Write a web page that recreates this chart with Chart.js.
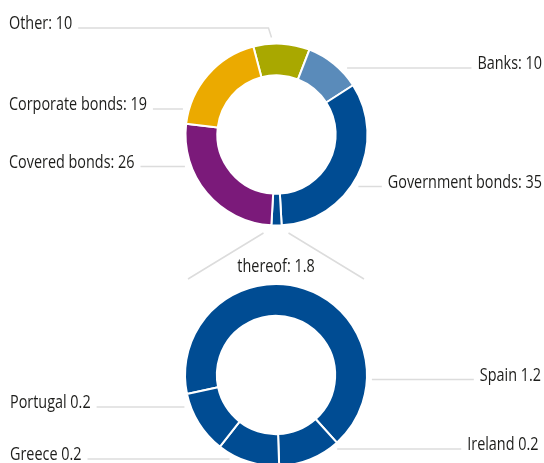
<!DOCTYPE html>
<html>
<head>
<meta charset="utf-8">
<script src="https://cdn.jsdelivr.net/npm/chart.js@4.4.1/dist/chart.umd.min.js"></script>
<style>
  html, body { margin: 0; padding: 0; background: #fff; }
  #wrap { position: relative; width: 544px; height: 463px; overflow: hidden; }
  #wrap canvas { position: absolute; left: 0; top: 0; }
</style>
</head>
<body>
<div id="wrap">
  <canvas id="top" width="544" height="463"></canvas>
  <canvas id="bottom" width="544" height="463"></canvas>
</div>
<script>
// portfolio split (percent)
const categories = ['Other', 'Banks', 'Government bonds', 'Covered bonds', 'Corporate bonds'];
const shares = [10, 10, 35, 26, 19];
const colors = ['#a9a800', '#5a8bba', '#004c93', '#7b1a7a', '#ebaa00'];

// government bonds, thereof periphery countries
const thereofLabel = 'thereof';
const thereofTotal = 1.8;
const countries = ['Spain', 'Ireland', 'Greece', 'Portugal'];
const countryValues = [1.2, 0.2, 0.2, 0.2];

// no condensed face installed, so squeeze a humanist sans horizontally
const FONT = '18px "Open Sans", sans-serif';
const SQUEEZE = 0.8;
const TEXT = '#1d1d1b';
const LINE = '#dcdcdc';
const R = 91;

// government bonds ring slice is split so the "thereof" part sits at the bottom
const topLabels = ['Other', 'Banks', 'Government bonds', thereofLabel, 'Covered bonds', 'Corporate bonds'];
const topValues = [shares[0], shares[1], +(shares[2] - thereofTotal).toFixed(1), thereofTotal, shares[3], shares[4]];
const topColors = [colors[0], colors[1], colors[2], colors[2], colors[3], colors[4]];
const topSum = topValues.reduce((a, b) => a + b, 0);
const beforeMid = topValues[0] + topValues[1] + topValues[2] + topValues[3] / 2;
const topRotation = 180 - beforeMid / topSum * 360;

function ringGeom(chart) {
  const arc = chart.getDatasetMeta(0).data[0];
  return { x: arc.x, y: arc.y, r: arc.outerRadius };
}

// x where a horizontal line at y meets the ring (plus a small gap)
function ringEdgeX(g, y, side, gap) {
  const dy = y - g.y;
  const rr = g.r + gap;
  const dx = Math.sqrt(Math.max(rr * rr - dy * dy, 0));
  return side < 0 ? g.x - dx : g.x + dx;
}

function squeezedText(ctx, text, x, y, align) {
  ctx.save();
  ctx.translate(x, y);
  ctx.scale(SQUEEZE, 1);
  ctx.textAlign = align;
  ctx.fillText(text, 0, 0);
  ctx.restore();
  return ctx.measureText(text).width * SQUEEZE;
}

function drawLabels(chart, items) {
  const ctx = chart.ctx;
  const g = ringGeom(chart);
  ctx.save();
  ctx.font = FONT;
  ctx.textBaseline = 'alphabetic';
  ctx.fillStyle = TEXT;
  ctx.strokeStyle = LINE;
  ctx.lineWidth = 1.5;
  items.forEach(it => {
    const w = squeezedText(ctx, it.text, it.x, it.y, it.align);
    const ly = it.y - 1;
    ctx.beginPath();
    if (it.align === 'left') {
      ctx.moveTo(it.x + w + 6, ly);
      if (it.bend) {
        ctx.lineTo(g.x - 8, ly);
        ctx.lineTo(g.x - 5, g.y - g.r - 6);
      } else {
        ctx.lineTo(ringEdgeX(g, ly, -1, it.gap || 6), ly);
      }
    } else {
      ctx.moveTo(it.x - w - 6, ly);
      ctx.lineTo(ringEdgeX(g, ly, 1, it.gap || 6), ly);
    }
    ctx.stroke();
  });
  ctx.restore();
}

const baseOptions = {
  responsive: false,
  maintainAspectRatio: false,
  animation: false,
  events: [],
  radius: R,
  cutout: '65%',
  plugins: { legend: { display: false }, tooltip: { enabled: false } }
};

const topChart = new Chart(document.getElementById('top'), {
  type: 'doughnut',
  data: {
    labels: topLabels,
    datasets: [{
      data: topValues,
      backgroundColor: topColors,
      borderColor: '#ffffff',
      borderWidth: 2
    }]
  },
  options: Object.assign({}, baseOptions, {
    rotation: topRotation,
    layout: { padding: { left: 9, right: 0, top: 0, bottom: 194 } }
  }),
  plugins: [{
    id: 'topLabels',
    afterDraw(chart) {
      drawLabels(chart, [
        { text: categories[0] + ': ' + shares[0], x: 9, y: 29, align: 'left', bend: true },
        { text: categories[4] + ': ' + shares[4], x: 9, y: 110, align: 'left' },
        { text: categories[3] + ': ' + shares[3], x: 9, y: 167.5, align: 'left' },
        { text: categories[1] + ': ' + shares[1], x: 542, y: 69, align: 'right' },
        { text: categories[2] + ': ' + shares[2], x: 542, y: 187.5, align: 'right' }
      ]);
    }
  }]
});

const bottomChart = new Chart(document.getElementById('bottom'), {
  type: 'doughnut',
  data: {
    labels: countries,
    datasets: [{
      data: countryValues,
      backgroundColor: colors[2],
      borderColor: '#ffffff',
      borderWidth: 2
    }]
  },
  options: Object.assign({}, baseOptions, {
    rotation: 258,
    layout: { padding: { left: 8, right: 0, top: 287, bottom: 0 } }
  }),
  plugins: [{
    id: 'bottomLabels',
    afterDraw(chart) {
      const ctx = chart.ctx;
      const t = ringGeom(topChart);
      const b = ringGeom(chart);
      // connector from the "thereof" slice down to the breakdown ring
      ctx.save();
      ctx.strokeStyle = LINE;
      ctx.lineWidth = 1.5;
      ctx.beginPath();
      ctx.moveTo(t.x - 13, t.y + t.r + 7.5);
      ctx.lineTo(b.x - b.r + 3, b.y - b.r - 5);
      ctx.moveTo(t.x + 12, t.y + t.r + 7.5);
      ctx.lineTo(b.x + b.r - 3, b.y - b.r - 5);
      ctx.stroke();
      ctx.font = FONT;
      ctx.fillStyle = TEXT;
      squeezedText(ctx, thereofLabel + ': ' + thereofTotal, b.x, 272, 'center');
      ctx.restore();

      drawLabels(chart, [
        { text: countries[0] + ' ' + countryValues[0], x: 541, y: 380.5, align: 'right', gap: 5 },
        { text: countries[1] + ' ' + countryValues[1], x: 538.5, y: 450, align: 'right', gap: 5 },
        { text: countries[3] + ' ' + countryValues[3], x: 10, y: 408, align: 'left' },
        { text: countries[2] + ' ' + countryValues[2], x: 10, y: 460, align: 'left', gap: 5 }
      ]);
    }
  }]
});
</script>
</body>
</html>
